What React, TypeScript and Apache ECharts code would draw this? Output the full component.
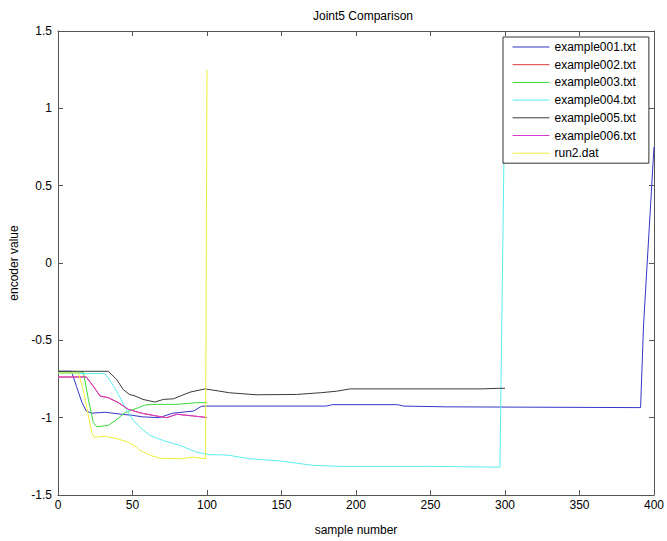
import React, { useEffect, useRef } from "react";
import * as echarts from "echarts";

// Encoder readings for joint 5, as [sample number, encoder value] pairs.
const example001: number[][] = [
  [0, -0.7], [9, -0.7], [12.5, -0.8], [16, -0.9], [19, -0.957], [22.6, -0.971],
  [31.6, -0.965], [42.7, -0.978], [50, -0.985], [57, -0.995], [68, -1.0],
  [77, -0.971], [91, -0.957], [96.4, -0.926], [100, -0.925], [180, -0.925],
  [184, -0.916], [228, -0.916], [232, -0.925], [260, -0.93], [391, -0.935],
  [393, -0.4], [400, 0.75],
];

const example006: number[][] = [
  [0, -0.737], [19, -0.737], [23.7, -0.797], [28.2, -0.86], [33.8, -0.871],
  [40.5, -0.903], [47.2, -0.946], [56, -0.971], [66, -0.989], [73, -1.0],
  [79.7, -0.978], [90.8, -0.989], [100, -0.999],
];

// example002 runs on the same trace as example006 and is drawn beneath it.
const example002: number[][] = example006;

const example003: number[][] = [
  [0, -0.705], [17, -0.705], [20.4, -0.882], [23.7, -1.031], [26, -1.059],
  [33.8, -1.05], [38.3, -1.02], [45, -0.967], [54, -0.935], [58, -0.92],
  [62, -0.914], [80, -0.914], [93, -0.903], [100, -0.903],
];

const example004: number[][] = [
  [0, -0.715], [31.5, -0.715], [36, -0.775], [40.5, -0.85], [46, -0.95],
  [50, -1.01], [55, -1.063], [62, -1.116], [70.7, -1.148], [82, -1.18],
  [93, -1.223], [102, -1.24], [109, -1.24], [115, -1.244], [129, -1.266],
  [149, -1.28], [171, -1.308], [189, -1.315], [250, -1.315], [296.6, -1.32],
  [300, 1.2],
];

const example005: number[][] = [
  [0, -0.7], [33.8, -0.7], [39.4, -0.754], [43.8, -0.818], [48, -0.85],
  [51.7, -0.86], [57, -0.882], [65, -0.899], [70.7, -0.882], [77.4, -0.878],
  [88.6, -0.835], [98.7, -0.814], [108.7, -0.829], [115, -0.839], [133, -0.852],
  [160, -0.85], [176, -0.839], [187, -0.829], [196, -0.814], [285, -0.814],
  [296, -0.81], [300, -0.81],
];

const run2: number[][] = [
  [0, -0.711], [13.6, -0.711], [17, -0.818], [20.4, -0.989], [22.6, -1.095],
  [24.4, -1.127], [31.5, -1.12], [40.5, -1.138], [47.2, -1.159], [52.8, -1.191],
  [55, -1.212], [62, -1.244], [68.5, -1.262], [82, -1.266], [90.8, -1.255],
  [99, -1.266], [100, 1.25],
];

const seriesNames = [
  "example001.txt",
  "example002.txt",
  "example003.txt",
  "example004.txt",
  "example005.txt",
  "example006.txt",
  "run2.dat",
];
const seriesData = [example001, example002, example003, example004, example005, example006, run2];
const seriesColors = ["#3535c8", "#dd3a3a", "#3ad83a", "#5aeeee", "#3a3a3a", "#d63ad6", "#eeee3a"];

const FONT = "'Liberation Sans', Arial, Helvetica, sans-serif";
const AXIS_COLOR = "#555";

export default function App() {
  const ref = useRef<HTMLDivElement>(null);

  useEffect(() => {
    if (!ref.current) return;
    const chart = echarts.init(ref.current, undefined, { renderer: "svg" });

    const boxAxis = {
      axisLine: { show: true, onZero: false, lineStyle: { color: AXIS_COLOR, width: 1 } },
      axisTick: { show: true, inside: true, length: 5, lineStyle: { color: AXIS_COLOR } },
      splitLine: { show: false },
    };

    chart.setOption({
      animation: false,
      backgroundColor: "#fff",
      textStyle: { fontFamily: FONT },
      title: {
        text: "Joint5 Comparison",
        left: 358,
        top: 5,
        textAlign: "center",
        textStyle: { fontFamily: FONT, fontSize: 12, fontWeight: "normal", color: "#000" },
      },
      grid: { left: 58, right: 13, top: 31, bottom: 41, containLabel: false },
      legend: {
        left: 503,
        top: 37,
        orient: "vertical",
        data: seriesNames.map((name, i) => ({
          name,
          itemStyle: { opacity: 0 },
          lineStyle: { color: seriesColors[i], width: 1 },
        })),
        backgroundColor: "#fff",
        borderColor: "#333",
        borderWidth: 1,
        borderRadius: 0,
        padding: [3, 13, 3, 9],
        itemWidth: 37,
        itemHeight: 14,
        itemGap: 3.7,
        textStyle: { fontFamily: FONT, fontSize: 12, color: "#000", lineHeight: 14 },
        selectedMode: false,
      },
      xAxis: [
        {
          type: "value",
          min: 0,
          max: 400,
          interval: 50,
          position: "bottom",
          name: "sample number",
          nameLocation: "middle",
          nameGap: 29,
          nameTextStyle: { fontFamily: FONT, fontSize: 12, color: "#000" },
          axisLabel: { color: "#000", fontSize: 12, fontFamily: FONT, margin: 4 },
          ...boxAxis,
        },
        {
          type: "value",
          min: 0,
          max: 400,
          interval: 50,
          position: "top",
          axisLabel: { show: false },
          ...boxAxis,
        },
      ],
      yAxis: [
        {
          type: "value",
          min: -1.5,
          max: 1.5,
          interval: 0.5,
          position: "left",
          name: "encoder value",
          nameLocation: "middle",
          nameGap: 38,
          nameTextStyle: { fontFamily: FONT, fontSize: 12, color: "#000" },
          axisLabel: { color: "#000", fontSize: 12, fontFamily: FONT, margin: 6 },
          ...boxAxis,
        },
        {
          type: "value",
          min: -1.5,
          max: 1.5,
          interval: 0.5,
          position: "right",
          axisLabel: { show: false },
          ...boxAxis,
        },
      ],
      series: seriesNames.map((name, i) => ({
        name,
        type: "line",
        data: seriesData[i],
        symbol: "none",
        showSymbol: false,
        clip: true,
        lineStyle: { color: seriesColors[i], width: 1 },
        itemStyle: { color: seriesColors[i] },
        z: 2 + i * 0.01,
      })),
    });

    return () => chart.dispose();
  }, []);

  return (
    <div
      ref={ref}
      style={{ position: "fixed", left: 0, top: 0, width: 667, height: 541 }}
    />
  );
}
